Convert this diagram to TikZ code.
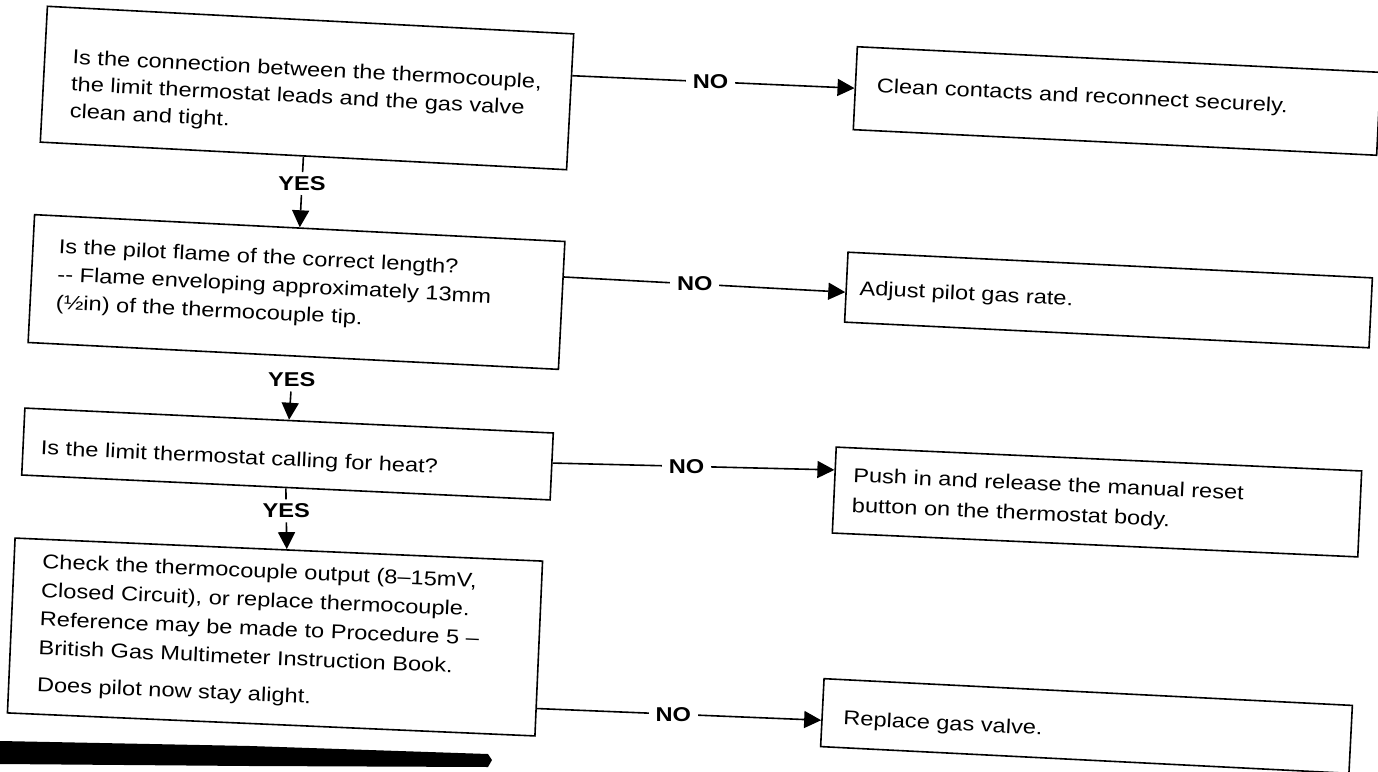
\documentclass[tikz,border=0pt]{standalone}
\usepackage{fontspec}
\setmainfont{Liberation Sans}[FakeStretch=1.18]
\usetikzlibrary{arrows.meta,calc}
\begin{document}
\begin{tikzpicture}[x=0.5pt,y=-0.5pt,
  box/.style={draw=black, line width=0.8pt, inner sep=0pt},
  txt/.style={inner sep=0pt, align=left, anchor=west, font=\fontsize{10pt}{13.5pt}\selectfont},
  lbl/.style={font=\fontsize{10pt}{12pt}\selectfont\bfseries, inner sep=2pt},
  nolbl/.style={lbl, fill=white, inner xsep=3.5pt},
  link/.style={line width=0.8pt},
  arrowlink/.style={link, -{Triangle[length=8.5pt,width=8.5pt]}},
]
\useasboundingbox (0,0) rectangle (1378,772);
\fill[white] (0,0) rectangle (1378,772);

% ---------- question boxes ----------
\begin{scope}[shift={(307,88)}, rotate=-3, transform shape]
  \node[box, minimum width=263.5pt, minimum height=68pt] (q1) at (0,0) {};
  \node[txt] (q1t) at (-236,10) {Is the connection between the thermocouple,\\the limit thermostat leads and the gas valve\\clean and tight.};
\end{scope}

\begin{scope}[shift={(296.5,292)}, rotate=-2.9, transform shape]
  \node[box, minimum width=265.5pt, minimum height=64pt] (q2) at (0,0) {};
  \node[txt, font=\fontsize{10pt}{14pt}\selectfont] (q2t) at (-240,-4) {Is the pilot flame of the correct length?\\-{}- Flame enveloping approximately 13mm\\(½in) of the thermocouple tip.};
\end{scope}

\begin{scope}[shift={(287.5,454)}, rotate=-2.7, transform shape]
  \node[box, minimum width=264.5pt, minimum height=33.5pt] (q3) at (0,0) {};
  \node[txt] (q3t) at (-247,7) {Is the limit thermostat calling for heat?};
\end{scope}

\begin{scope}[shift={(275,637)}, rotate=-2.5, transform shape]
  \node[box, minimum width=264pt, minimum height=87.5pt] (q4) at (0,0) {};
  \node[txt, font=\fontsize{10pt}{14.4pt}\selectfont] (q4t) at (-236,-2) {Check the thermocouple output (8--15mV,\\Closed Circuit), or replace thermocouple.\\Reference may be made to Procedure 5 --\\British Gas Multimeter Instruction Book.\\[4pt]Does pilot now stay alight.};
\end{scope}

% ---------- answer boxes ----------
\begin{scope}[shift={(1117,101)}, rotate=-2.8, transform shape]
  \node[box, minimum width=262pt, minimum height=41.5pt] (a1) at (0,0) {};
  \node[txt] (a1t) at (-241,-2) {Clean contacts and reconnect securely.};
\end{scope}

\begin{scope}[shift={(1108.5,300)}, rotate=-2.8, transform shape]
  \node[box, minimum width=262.5pt, minimum height=35pt] (a2) at (0,0) {};
  \node[txt] (a2t) at (-249.5,2) {Adjust pilot gas rate.};
\end{scope}

\begin{scope}[shift={(1097,502)}, rotate=-2.6, transform shape]
  \node[box, minimum width=263pt, minimum height=43pt] (a3) at (0,0) {};
  \node[txt, font=\fontsize{10pt}{15pt}\selectfont] (a3t) at (-245,1) {Push in and release the manual reset\\button on the thermostat body.};
\end{scope}

\begin{scope}[shift={(1086.5,726)}, rotate=-2.9, transform shape]
  \node[box, minimum width=264.5pt, minimum height=34pt] (a4) at (0,0) {};
  \node[txt] (a4t) at (-243.5,6) {Replace gas valve.};
\end{scope}

% ---------- YES connectors ----------
\coordinate (q4n) at ($(q4.north west)!0.515!(q4.north east)$);
\node[lbl] (yes1) at ($(q1.south)!0.38!(q2.north)$) {YES};
\node[lbl] (yes2) at ($(q2.south)!0.37!(q3.north)$) {YES};
\node[lbl] (yes3) at ($(q3.south)!0.37!(q4n)$) {YES};

\draw[link] (q1.south) -- (yes1);
\draw[arrowlink] (yes1) -- (q2.north);
\draw[arrowlink] (yes2) -- (q3.north);
\draw[link] (q3.south) -- (yes3);
\draw[arrowlink] (yes3) -- (q4n);

% ---------- NO connectors ----------
\draw[arrowlink] ($(q1.north east)!0.31!(q1.south east)$) -- node[nolbl, pos=0.49] {NO} (a1.west);
\draw[arrowlink] ($(q2.north east)!0.28!(q2.south east)$) -- node[nolbl, pos=0.465] {NO} ($(a2.north west)!0.57!(a2.south west)$);
\draw[arrowlink] ($(q3.north east)!0.45!(q3.south east)$) -- node[nolbl, pos=0.475] {NO} ($(a3.north west)!0.27!(a3.south west)$);
\draw[arrowlink] ($(q4.north east)!0.84!(q4.south east)$) -- node[nolbl, pos=0.48] {NO} ($(a4.north west)!0.61!(a4.south west)$);

% ---------- black bar at the foot of the page ----------
\fill[black] (0,741) -- (250,746) -- (488,754) -- (492,760) -- (488,767) -- (250,766) -- (0,764) -- cycle;
\end{tikzpicture}
\end{document}
